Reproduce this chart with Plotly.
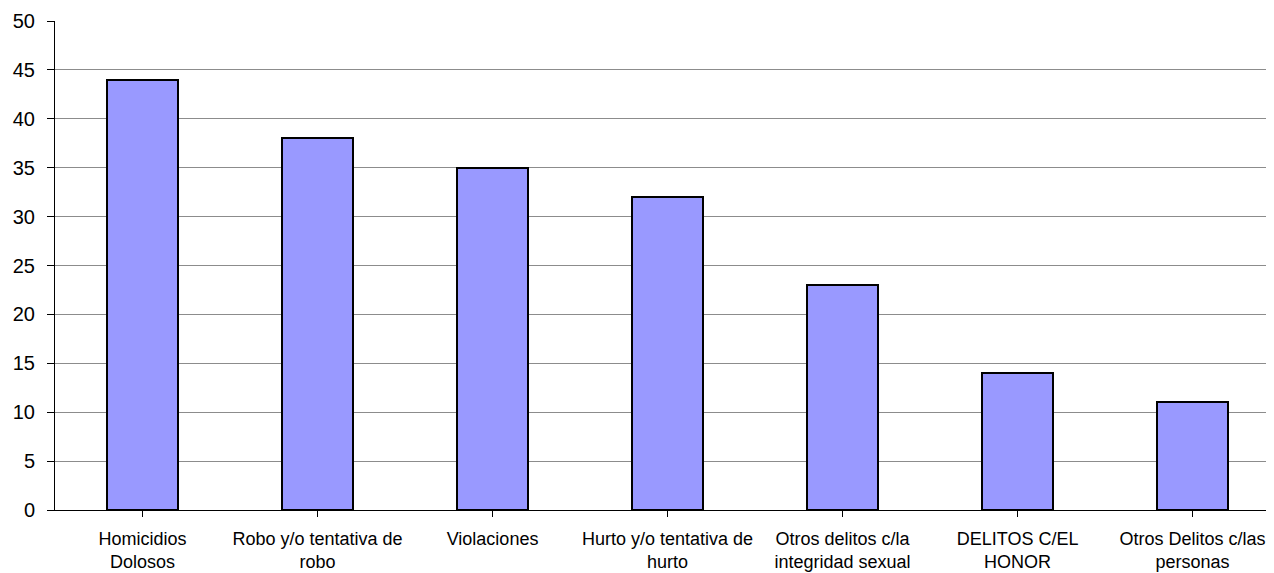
import plotly.graph_objects as go

categories = [
    "Homicidios<br>Dolosos",
    "Robo y/o tentativa de<br>robo",
    "Violaciones",
    "Hurto y/o tentativa de<br>hurto",
    "Otros delitos c/la<br>integridad sexual",
    "DELITOS C/EL<br>HONOR",
    "Otros Delitos c/las<br>personas",
]
values = [44, 38, 35, 32, 23, 14, 11]
y_ticks = [0, 5, 10, 15, 20, 25, 30, 35, 40, 45, 50]

fig = go.Figure(
    go.Bar(
        x=list(range(len(categories))),
        y=values,
        width=0.406,
        marker=dict(color="#9999FF", line=dict(color="#000000", width=2)),
    )
)

fig.update_layout(
    width=1274,
    height=573,
    margin=dict(l=47, r=0, t=13, b=71),
    plot_bgcolor="white",
    paper_bgcolor="white",
    font=dict(family="Liberation Sans, Arial, sans-serif", size=18, color="black"),
    showlegend=False,
    bargap=0,
)
fig.update_xaxes(
    tickmode="array",
    tickvals=list(range(len(categories))),
    ticktext=categories,
    range=[-0.5, 6.511],
    showline=True,
    linecolor="black",
    linewidth=1,
    showgrid=False,
    ticks="outside",
    tickson="boundaries",
    ticklen=6,
    tickcolor="black",
    tickfont=dict(size=18),
    ticklabelstandoff=6,
    automargin=False,
)
fig.update_yaxes(
    range=[0, 50],
    tickvals=y_ticks,
    showline=True,
    linecolor="black",
    linewidth=1,
    showgrid=True,
    gridcolor="#8c8c8c",
    gridwidth=1,
    ticks="outside",
    ticklen=7,
    tickcolor="black",
    zeroline=False,
    tickfont=dict(size=20),
    ticklabelstandoff=8,
    automargin=False,
)

fig.write_html("out.html")
